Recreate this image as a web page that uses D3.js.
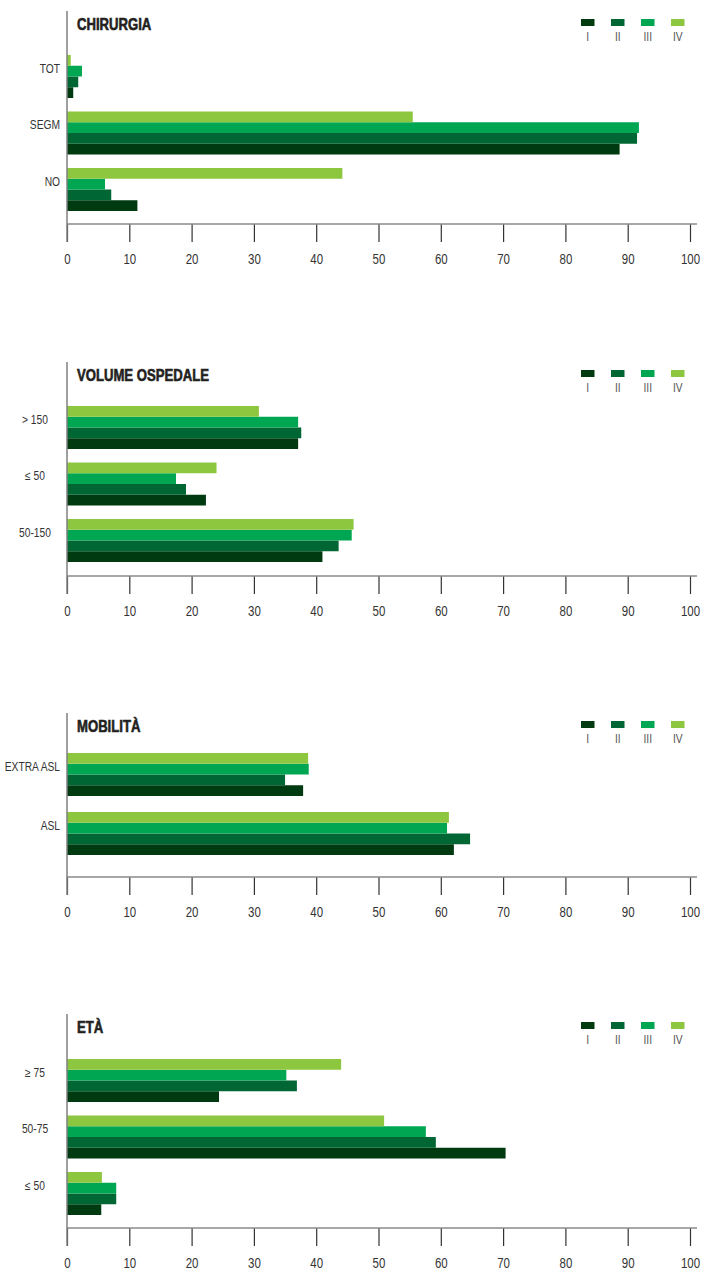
<!DOCTYPE html>
<html>
<head>
<meta charset="utf-8">
<script src="https://cdn.jsdelivr.net/npm/d3@7"></script>
<style>
  html, body { margin: 0; padding: 0; background: #fff; }
  svg { display: block; }
  svg text { font-family: "Liberation Sans", Arial, Helvetica, sans-serif; }
</style>
</head>
<body>
<svg id="chart" width="701" height="1271"></svg>
<script>
// Stage labels and their colours (I = darkest, IV = lightest)
const stages = ["I", "II", "III", "IV"];
const stageColors = ["#003a10", "#006633", "#00a651", "#8dc63f"];

// X axis ticks (percent)
const xTicks = [0, 10, 20, 30, 40, 50, 60, 70, 80, 90, 100];

// CHIRURGIA
const chirurgiaCategories = ["TOT", "SEGM", "NO"];
const chirurgiaValues = [
  [1.0, 88.7, 11.3],  // I
  [1.8, 91.5, 7.1],   // II
  [2.4, 91.8, 6.1],   // III
  [0.6, 55.5, 44.2]   // IV
];

// VOLUME OSPEDALE
const volumeCategories = ["> 150", "\u2264 50", "50-150"];
const volumeValues = [
  [37.1, 22.3, 41.0],
  [37.6, 19.1, 43.6],
  [37.1, 17.5, 45.7],
  [30.8, 24.0, 46.0]
];

// MOBILITÀ
const mobilitaCategories = ["EXTRA ASL", "ASL"];
const mobilitaValues = [
  [37.9, 62.1],
  [35.0, 64.7],
  [38.8, 61.0],
  [38.7, 61.3]
];

// ETÀ
const etaCategories = ["\u2265 75", "50-75", "\u2264 50"];
const etaValues = [
  [24.4, 70.4, 5.5],
  [36.9, 59.2, 7.9],
  [35.2, 57.6, 7.9],
  [44.0, 50.9, 5.6]
];

const panels = [
  { title: "CHIRURGIA", cats: chirurgiaCategories, vals: chirurgiaValues,
    top: 11, bandTop: 55, step: 56.5, axisY: 224, anchor: "end", labelX: 60 },
  { title: "VOLUME OSPEDALE", cats: volumeCategories, vals: volumeValues,
    top: 362, bandTop: 406, step: 56.5, axisY: 576, anchor: "middle", labelX: 35 },
  { title: "MOBILITÀ", cats: mobilitaCategories, vals: mobilitaValues,
    top: 713, bandTop: 753, step: 59, axisY: 877, anchor: "end", labelX: 60 },
  { title: "ETÀ", cats: etaCategories, vals: etaValues,
    top: 1014, bandTop: 1059, step: 56.5, axisY: 1228, anchor: "middle", labelX: 35 }
];

// horizontal compression that gives the condensed look of the typeface
const squeeze = 0.82;

const svg = d3.select("#chart");
const x = d3.scaleLinear().domain([0, 100]).range([67, 690]);
const groupH = 43;
const tickLen = 18;

// places a condensed text at (tx, ty)
function condensedText(parent, tx, ty, txt) {
  return parent.append("text")
    .attr("transform", `translate(${tx},${ty}) scale(${squeeze},1)`)
    .text(txt);
}

panels.forEach(p => {
  const g = svg.append("g");
  const n = p.cats.length;

  const y = d3.scaleBand()
    .domain(p.cats)
    .range([p.bandTop, p.bandTop + (n - 1) * p.step + groupH])
    .paddingInner((p.step - groupH) / p.step)
    .paddingOuter(0);

  // within a group: IV on top, I at the bottom
  const yStage = d3.scaleBand()
    .domain(stages.slice().reverse())
    .range([0, y.bandwidth()]);

  // bars
  stages.forEach((s, si) => {
    g.append("g").selectAll("rect")
      .data(p.cats.map((c, ci) => ({ c, v: p.vals[si][ci] })))
      .join("rect")
      .attr("x", x(0))
      .attr("y", d => y(d.c) + yStage(s))
      .attr("width", d => x(d.v) - x(0))
      .attr("height", yStage.bandwidth())
      .attr("fill", stageColors[si]);
  });

  // x axis
  const ax = g.append("g")
    .attr("transform", `translate(0,${p.axisY})`)
    .call(d3.axisBottom(x).tickValues(xTicks).tickSize(tickLen).tickPadding(12).tickFormat(d3.format("d")));
  ax.select(".domain").remove();
  ax.selectAll(".tick line").attr("stroke", "#333").attr("stroke-width", 1.2);
  ax.selectAll(".tick text")
    .attr("fill", "#333")
    .attr("transform", `scale(${squeeze},1)`)
    .style("font-size", "14px")
    .style("font-family", "\"Liberation Sans\", Arial, sans-serif");
  g.append("line")
    .attr("x1", x(0)).attr("x2", 697)
    .attr("y1", p.axisY).attr("y2", p.axisY)
    .attr("stroke", "#8a8a8a").attr("stroke-width", 1.5);

  // y axis line
  g.append("line")
    .attr("x1", x(0)).attr("x2", x(0))
    .attr("y1", p.top).attr("y2", p.axisY + tickLen)
    .attr("stroke", "#7f7f7f").attr("stroke-width", 1.5);

  // category labels
  const cl = g.append("g");
  p.cats.forEach(c => {
    condensedText(cl, p.labelX, y(c) + 13.5, c)
      .attr("dy", "0.35em")
      .attr("text-anchor", p.anchor)
      .attr("fill", "#333")
      .style("font-size", "12.5px");
  });

  // title
  condensedText(g, 77, p.top + 19, p.title)
    .attr("fill", "#231f20")
    .attr("stroke", "#231f20")
    .attr("stroke-width", 0.6)
    .style("font-size", "16px")
    .style("font-weight", "bold");

  // legend
  const lg = g.append("g");
  stages.forEach((s, si) => {
    const lx = 581 + si * 30;
    lg.append("rect")
      .attr("x", lx).attr("y", p.top + 8)
      .attr("width", 13.5).attr("height", 7)
      .attr("fill", stageColors[si]);
    condensedText(lg, lx + 6.75, p.top + 29.5, s)
      .attr("text-anchor", "middle")
      .attr("fill", "#555")
      .style("font-size", "12.5px");
  });
});
</script>
</body>
</html>
